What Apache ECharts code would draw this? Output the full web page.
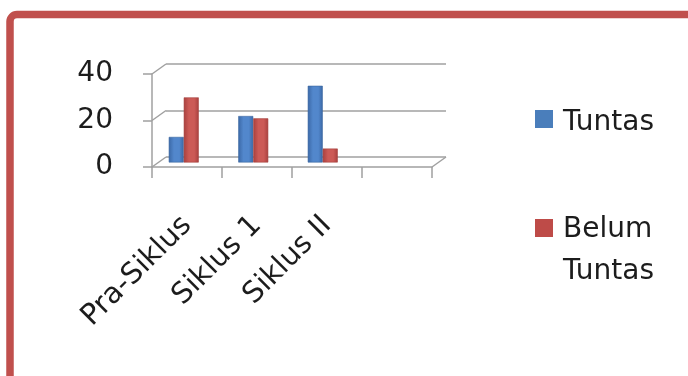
<!DOCTYPE html>
<html>
<head>
<meta charset="utf-8">
<script src="https://cdn.jsdelivr.net/npm/echarts@6.0.0/dist/echarts.min.js"></script>
<style>
  html, body { margin: 0; padding: 0; background: #ffffff; }
  #chart { width: 688px; height: 376px; }
</style>
</head>
<body>
<div id="chart"></div>
<script>
// Ketuntasan belajar per siklus
const categories = ['Pra-Siklus', 'Siklus 1', 'Siklus II', ''];
const tuntas = [11, 20, 33, null];
const belumTuntas = [28, 19, 6, null];
const seriesNames = ['Tuntas', 'Belum Tuntas'];
const yMin = 0;
const yMax = 40;
const yStep = 20;
// Corners where the front frame meets the back wall: [slot position, value]
const wallEdges = [[0, 0], [0, 20], [0, 40], [4, 0]];

const FONT = 'DejaVu Sans';
const TEXT = '#1c1c1c';
const LINE = '#a0a0a0';
const DEPTH_X = 14;
const DEPTH_Y = -10;
const FRONT = { left: 152, top: 74, width: 280, height: 93 };
const BACK = { left: FRONT.left + DEPTH_X, top: FRONT.top + DEPTH_Y, width: 280, height: 93 };
const BARS = { left: 149, top: 69.5, width: 278, height: 93 };

function barFill(edge, mid) {
  return new echarts.graphic.LinearGradient(0, 0, 1, 0, [
    { offset: 0, color: edge },
    { offset: 0.35, color: mid },
    { offset: 0.7, color: mid },
    { offset: 1, color: edge }
  ]);
}

// Legend key: an 18px square at the top of a taller box, so the label
// (vertically centred on the box) lines up with the square's first line.
function keyIcon(boxHeight) {
  return 'path://M0,0H18V18H0Z M0,' + boxHeight + 'H0.01V' + (boxHeight + 0.01) + 'H0Z';
}

const chart = echarts.init(document.getElementById('chart'), null, { renderer: 'canvas' });

const legendBase = {
  orient: 'vertical',
  left: 535,
  padding: 0,
  itemWidth: 18,
  selectedMode: false
};

chart.setOption({
  animation: false,
  backgroundColor: '#ffffff',
  graphic: [{
    type: 'rect',
    silent: true,
    z: -10,
    shape: { x: 10, y: 14.5, width: 800, height: 440, r: 7 },
    style: { fill: 'none', stroke: '#c0504d', lineWidth: 7.5 }
  }],
  legend: [
    Object.assign({}, legendBase, {
      data: [seriesNames[0]],
      top: 102,
      itemHeight: 26,
      icon: keyIcon(26),
      itemStyle: { color: '#4a7ebb', borderWidth: 0 },
      textStyle: { fontFamily: FONT, fontSize: 28, color: TEXT, lineHeight: 42, padding: [0, 0, 0, 5] }
    }),
    Object.assign({}, legendBase, {
      data: [seriesNames[1]],
      top: 209,
      itemHeight: 64,
      icon: keyIcon(64),
      itemStyle: { color: '#be4b48', borderWidth: 0 },
      formatter: function (name) { return name.replace(' ', '\n'); },
      textStyle: { fontFamily: FONT, fontSize: 28, color: TEXT, lineHeight: 42, padding: [0, 0, 0, 5] }
    })
  ],
  grid: [
    Object.assign({ containLabel: false }, FRONT),
    Object.assign({ containLabel: false }, BACK),
    Object.assign({ containLabel: false }, BARS)
  ],
  xAxis: [
    {
      type: 'category', gridIndex: 0, data: categories, boundaryGap: true,
      axisLine: { show: true, lineStyle: { color: LINE, width: 1.5 } },
      axisTick: { show: true, length: 11, alignWithLabel: false, lineStyle: { color: LINE, width: 1.5 } },
      axisLabel: { rotate: 45, margin: 54, fontFamily: FONT, fontSize: 29, color: TEXT, interval: 0 },
      splitLine: { show: false }
    },
    { type: 'category', gridIndex: 1, data: categories, show: false },
    { type: 'category', gridIndex: 2, data: categories, show: false },
    { type: 'value', gridIndex: 0, min: 0, max: categories.length, show: false }
  ],
  yAxis: [
    {
      type: 'value', gridIndex: 0, min: yMin, max: yMax, interval: yStep,
      axisLine: { show: true, lineStyle: { color: LINE, width: 1.5 } },
      axisTick: { show: true, length: 9, lineStyle: { color: LINE, width: 1.5 } },
      axisLabel: { margin: 39, fontFamily: FONT, fontSize: 28, color: TEXT },
      splitLine: { show: false }
    },
    {
      type: 'value', gridIndex: 1, min: yMin, max: yMax, interval: yStep,
      axisLine: { show: false }, axisTick: { show: false }, axisLabel: { show: false },
      splitLine: { show: true, lineStyle: { color: LINE, width: 1.5 } }
    },
    { type: 'value', gridIndex: 2, min: yMin, max: yMax, interval: yStep, show: false, splitLine: { show: false } }
  ],
  series: [
    {
      type: 'custom',
      name: 'wall',
      xAxisIndex: 3,
      yAxisIndex: 0,
      silent: true,
      data: wallEdges,
      renderItem: function (params, api) {
        const p = api.coord([api.value(0), api.value(1)]);
        return {
          type: 'line',
          shape: { x1: p[0], y1: p[1], x2: p[0] + DEPTH_X, y2: p[1] + DEPTH_Y },
          style: { stroke: LINE, lineWidth: 1.5 }
        };
      }
    },
    {
      type: 'bar',
      name: seriesNames[0],
      xAxisIndex: 2,
      yAxisIndex: 2,
      data: tuntas,
      barWidth: 15,
      barGap: '0%',
      itemStyle: { color: barFill('#3b68a6', '#5287cc'), borderColor: '#3a66a0', borderWidth: 0.6 }
    },
    {
      type: 'bar',
      name: seriesNames[1],
      xAxisIndex: 2,
      yAxisIndex: 2,
      data: belumTuntas,
      barWidth: 15,
      barGap: '0%',
      itemStyle: { color: barFill('#a8403e', '#cc5a56'), borderColor: '#a5403d', borderWidth: 0.6 }
    }
  ]
});
</script>
</body>
</html>
